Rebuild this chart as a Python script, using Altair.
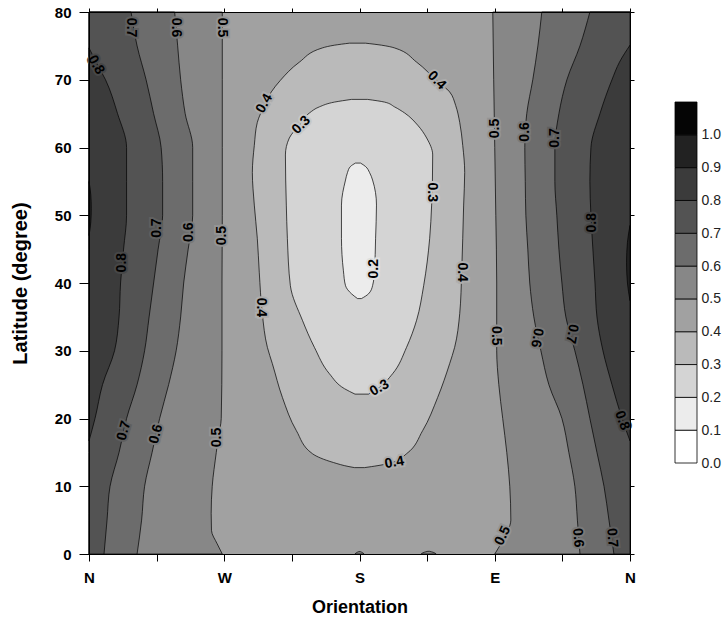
import altair as alt
import pandas as pd

# ---------------- values ----------------
# orientation: N=0, W=90, S=180, E=270, N=360 ; latitude in degrees
LAT = [0, 5, 10, 15, 20, 25, 30, 35, 40, 45, 50, 55, 60, 65, 70, 75, 80]

# West half (left) contour lines: orientation of the line at each latitude
C05_L_LAT = [0, 1.5, 3.5, 6, 10, 15, 17.2, 20, 30, 40, 50, 60, 70, 80]
C05_L = [88.7, 85.3, 81.5, 81.3, 82, 84.7, 86, 88, 88.5, 88.5, 88.7, 88.7, 88.7, 88.7]
C06_L = [32, 35, 37, 42, 47, 53, 58, 61, 63, 66, 69, 69, 69, 64, 61, 59, 57]
C07_L = [10, 12, 14, 20, 25, 32, 37, 40, 43, 46, 49, 49, 48, 43, 38, 32, 28]
C08_L_LAT = [16.7, 20, 25, 30, 35, 40, 45, 50, 55, 60, 65, 70, 72.6, 74.7]
C08_L = [0, 4, 9, 17, 20, 21, 23, 25, 25, 25, 19, 11, 4.7, 0]
C09_L_LAT = [47, 49, 51, 53, 55]
C09_L = [0, 1.2, 1.5, 1.2, 0]

# East half (right) contour lines
C05_R_LAT = [0, 1.2, 3.4, 5, 10, 15, 20, 25, 30, 40, 50, 60, 70, 80]
C05_R = [270, 273.3, 278.7, 280.7, 280, 278, 275.3, 272.7, 271.3, 271.3, 270.7, 270, 269.3, 268.7]
C06_R = [326.7, 325, 323.3, 319.3, 314.7, 306, 300.7, 296, 293.3, 292, 290.7, 290.3, 290, 291.3, 295.3, 298.7, 301.3]
C07_R = [349.3, 346, 342.7, 338, 333.3, 328.7, 323.3, 317.3, 314.7, 312.7, 311.3, 310, 310, 312.7, 318, 326.7, 333.3]
C08_R_LAT = [16.7, 20, 25, 30, 35, 40, 45, 50, 55, 60, 65, 70, 72.6, 75.1]
C08_R = [360, 354.7, 348, 342, 338, 336.7, 335.3, 334, 333.3, 334, 340, 348, 353, 360]
C09_R_LAT = [37.4, 40, 43, 46, 48.5]
C09_R = [360, 358.3, 357.7, 358.3, 360]

# Closed contours around South: latitude, west edge, east edge
O04_LAT = [12.75, 12.9, 13.5, 14.8, 18.2, 23.1, 28.1, 30.5, 35.5, 41.6, 46.6, 51.5, 56.3,
           60.3, 63.7, 66.2, 68.2, 69.9, 72.6, 74.7, 75.1, 75.4]
O04_W = [176.7, 173, 162.7, 148.7, 138, 128.7, 122, 118.7, 115.3, 113.3, 112, 110, 108.7,
         110, 112, 116.7, 121.3, 127.3, 140, 155.3, 163.3, 173.3]
O04_E = [183.3, 188, 202, 211.3, 222, 232, 240, 243.3, 246.7, 248, 248.7, 249.3, 250,
         248.7, 246.7, 244, 240, 231.3, 218, 203.3, 194.7, 184]

O03_LAT = [23.6, 24.4, 26.6, 30.5, 34.5, 39.6, 46.6, 51.5, 58.9, 61.4, 63.3, 65.1, 66.0, 66.7, 67.1]
O03_W = [177, 170, 160, 150, 142, 134, 132, 131.3, 130.7, 133.3, 140, 146.7, 153.3, 163.3, 174.7]
O03_E = [186, 192, 202, 211.3, 218, 222.7, 226.7, 228, 228.7, 224.7, 218.7, 210, 203.3, 196.7, 185.3]

O02_LAT = [37.7, 38.4, 39.6, 41.8, 46.6, 51.5, 55.2, 56.3, 57.2, 57.7]
O02_W = [178.7, 174.7, 170.7, 169.3, 168, 168, 170.7, 172, 174, 177.3]
O02_E = [181.3, 186, 188.7, 190, 190.7, 191.3, 188.7, 186.7, 184, 180.7]

# tiny 0.5 contours on the bottom edge
B1_LAT = [0, 0.2, 0.35]
B1_W = [177, 178, 179.5]
B1_E = [183, 182, 180.5]
B2_LAT = [0, 0.25, 0.4]
B2_W = [221, 223, 225.5]
B2_E = [231, 229, 226.5]

# contour labels
LBL_LEVEL = [0.7, 0.6, 0.5, 0.8, 0.8, 0.7, 0.6, 0.5, 0.7, 0.6, 0.5,
             0.4, 0.3, 0.4, 0.3, 0.2, 0.4, 0.4, 0.3, 0.4,
             0.5, 0.6, 0.7, 0.8, 0.5, 0.6, 0.7, 0.8, 0.5, 0.6, 0.7]
LBL_X = [28, 58, 88.7, 4.7, 22, 45.3, 66.7, 88.7, 23.3, 44.7, 85.3,
         116.7, 141.3, 231.3, 228, 189.5, 248, 114.7, 193.3, 203.3,
         270, 290, 310, 334.7, 271, 298, 321.3, 354.7, 275.3, 325.3, 348]
LBL_LAT = [77.7, 77.7, 77.7, 72.2, 43.0, 48.1, 47.5, 47.0, 18.2, 17.7, 17.2,
           66.5, 63.3, 69.9, 53.4, 42.1, 41.6, 36.4, 24.5, 13.5,
           62.8, 62.3, 61.4, 48.9, 32.2, 31.9, 32.5, 19.7, 2.7, 2.4, 2.4]
LBL_ANGLE = [90, 90, 90, 60, 270, 270, 270, 270, 285, 285, 270,
             300, 315, 45, 90, 270, 90, 90, 330, 350,
             270, 270, 270, 270, 90, 100, 100, 70, 295, 85, 85]

# colour bar
LEG_LEVELS = [0.0, 0.1, 0.2, 0.3, 0.4, 0.5, 0.6, 0.7, 0.8, 0.9, 1.0]
GREYS = ["#ffffff", "#ececec", "#d4d4d4", "#bababa", "#a1a1a1", "#878787",
         "#6c6c6c", "#535353", "#3b3b3b", "#222222", "#050505"]
X_TICKS = [0, 45, 90, 135, 180, 225, 270, 315, 360]
Y_TICKS = [0, 10, 20, 30, 40, 50, 60, 70, 80]

# ---------------- chart ----------------
FONT = "Liberation Sans"
XS = alt.Scale(domain=[0, 360], nice=False, zero=False)
YS = alt.Scale(domain=[0, 80], nice=False, zero=False)


def frame(lat, west, east):
    return pd.DataFrame({"lat": lat, "x": west, "x2": east})


def region(df, color):
    return alt.Chart(df).mark_area(
        orient="horizontal", interpolate="monotone", fill=color,
        stroke="black", strokeWidth=0.7, fillOpacity=1
    ).encode(
        y=alt.Y("lat:Q", scale=YS, axis=None),
        x=alt.X("x:Q", scale=XS, axis=None, stack=None),
        x2="x2:Q",
    )


label_expr = ("datum.value==0||datum.value==360?'N':datum.value==90?'W':"
              "datum.value==180?'S':datum.value==270?'E':''")

base = alt.Chart(pd.DataFrame({"d": [0]})).mark_rect(fill=GREYS[4]).encode(
    x=alt.X(datum=0, scale=XS, axis=alt.Axis(
        orient="bottom", values=X_TICKS, labelExpr=label_expr, title="Orientation",
        tickSize=7, labelPadding=9, labelFontSize=15, labelFontWeight="bold",
        labelFlush=False, titleFontSize=18, titleFontWeight="bold", titlePadding=13,
        domainColor="black", tickColor="black", labelColor="black", titleColor="black",
        grid=False, zindex=2)),
    x2=alt.X2(datum=360),
    y=alt.Y(datum=0, scale=YS, axis=alt.Axis(
        orient="left", values=Y_TICKS, title="Latitude (degree)",
        tickSize=10, labelPadding=8, labelFontSize=15, labelFontWeight="bold",
        titleFontSize=20, titleFontWeight="bold", titlePadding=24,
        domainColor="black", tickColor="black", labelColor="black", titleColor="black",
        grid=False, zindex=2)),
    y2=alt.Y2(datum=80),
)

mirror = alt.Chart(pd.DataFrame({"d": [0]})).mark_rect(fillOpacity=0).encode(
    x=alt.X(datum=0, scale=XS, axis=alt.Axis(
        orient="top", values=X_TICKS, labels=False, title=None, tickSize=4,
        domainColor="black", tickColor="black", grid=False, zindex=2)),
    x2=alt.X2(datum=360),
    y=alt.Y(datum=0, scale=YS, axis=alt.Axis(
        orient="right", values=Y_TICKS, labels=False, title=None, tickSize=4,
        domainColor="black", tickColor="black", grid=False, zindex=2)),
    y2=alt.Y2(datum=80),
)

zeros = lambda n: [0] * n
fulls = lambda n: [360] * n

layers = [
    base,
    region(frame(C05_L_LAT, zeros(len(C05_L)), C05_L), GREYS[5]),
    region(frame(LAT, zeros(len(C06_L)), C06_L), GREYS[6]),
    region(frame(LAT, zeros(len(C07_L)), C07_L), GREYS[7]),
    region(frame(C08_L_LAT, zeros(len(C08_L)), C08_L), GREYS[8]),
    region(frame(C09_L_LAT, zeros(len(C09_L)), C09_L), GREYS[9]),
    region(frame(C05_R_LAT, C05_R, fulls(len(C05_R))), GREYS[5]),
    region(frame(LAT, C06_R, fulls(len(C06_R))), GREYS[6]),
    region(frame(LAT, C07_R, fulls(len(C07_R))), GREYS[7]),
    region(frame(C08_R_LAT, C08_R, fulls(len(C08_R))), GREYS[8]),
    region(frame(C09_R_LAT, C09_R, fulls(len(C09_R))), GREYS[9]),
    region(frame(O04_LAT, O04_W, O04_E), GREYS[3]),
    region(frame(O03_LAT, O03_W, O03_E), GREYS[2]),
    region(frame(O02_LAT, O02_W, O02_E), GREYS[1]),
    region(frame(B1_LAT, B1_W, B1_E), GREYS[5]),
    region(frame(B2_LAT, B2_W, B2_E), GREYS[5]),
]


def mix(c1, c2):
    a = [int(c1[i:i + 2], 16) for i in (1, 3, 5)]
    b = [int(c2[i:i + 2], 16) for i in (1, 3, 5)]
    return "#" + "".join(f"{(p + q) // 2:02x}" for p, q in zip(a, b))


labels = pd.DataFrame({
    "x": LBL_X, "lat": LBL_LAT, "angle": LBL_ANGLE,
    "txt": [f"{v:.1f}" for v in LBL_LEVEL],
    "halo": [mix(GREYS[round(v * 10) - 1], GREYS[round(v * 10)]) for v in LBL_LEVEL],
})
lab_enc = dict(
    x=alt.X("x:Q", scale=XS, axis=None),
    y=alt.Y("lat:Q", scale=YS, axis=None),
    text="txt:N",
    angle=alt.Angle("angle:Q", scale=None),
)
halo = alt.Chart(labels).mark_text(font=FONT, fontSize=14, fontWeight="bold",
                                   strokeWidth=4, baseline="middle").encode(
    stroke=alt.Stroke("halo:N", scale=None), fill=alt.Fill("halo:N", scale=None), **lab_enc)
text = alt.Chart(labels).mark_text(font=FONT, fontSize=14, fontWeight="bold",
                                   color="black", baseline="middle").encode(**lab_enc)

layers += [halo, text, mirror]

main = alt.layer(*layers).resolve_axis(x="independent", y="independent").properties(
    width=541, height=542)

leg_df = pd.DataFrame({
    "lo": LEG_LEVELS,
    "hi": [round(v + 0.1, 1) for v in LEG_LEVELS],
    "c": GREYS,
})
legend = alt.Chart(leg_df).mark_rect(stroke="black", strokeWidth=0.8).encode(
    y=alt.Y("lo:Q", scale=alt.Scale(domain=[0, 1.1], range=[451, 90], nice=False, zero=False),
            axis=alt.Axis(orient="right", values=LEG_LEVELS, format=".1f", ticks=False,
                          domain=False, grid=False, labelFontSize=14, labelColor="#222222",
                          labelPadding=4, title=None)),
    y2="hi:Q",
    x=alt.value(0),
    x2=alt.value(22),
    fill=alt.Fill("c:N", scale=None),
).properties(width=22, height=542)

chart = alt.hconcat(main, legend, spacing=45, bounds="flush").properties(
    padding={"left": 10, "top": 5, "right": 2, "bottom": 5}
).configure_view(stroke=None).configure_axis(labelFont=FONT, titleFont=FONT)

chart.save("out.html", embed_options={"renderer": "svg", "actions": False})
